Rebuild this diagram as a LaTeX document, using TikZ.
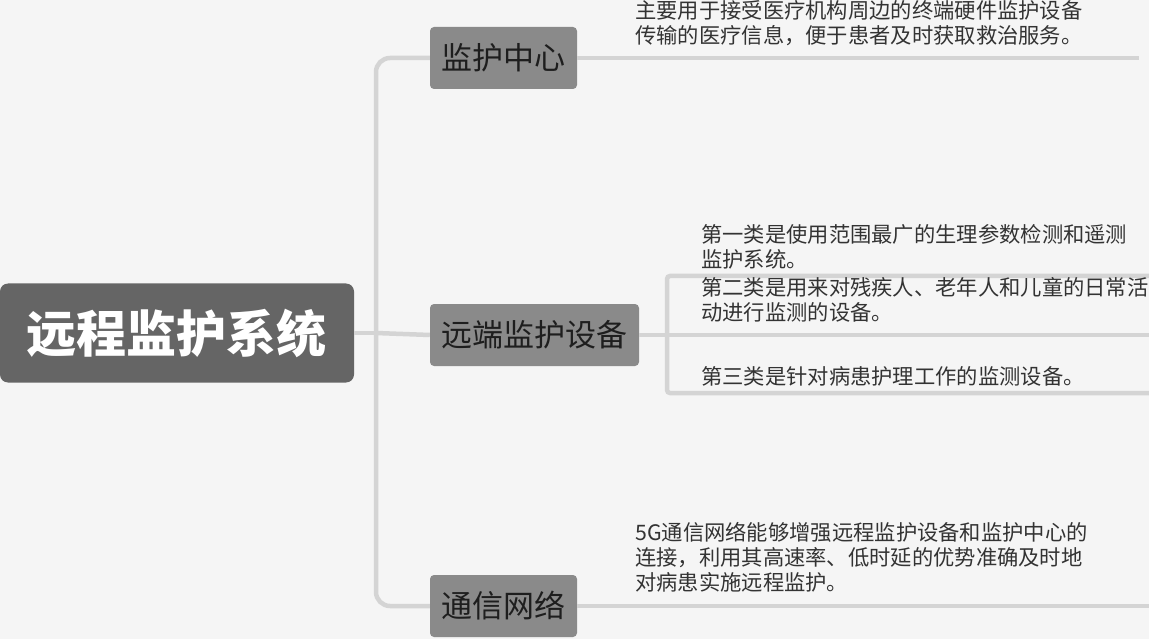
\documentclass[tikz,border=0pt]{standalone}
\usepackage{fontspec}
\newfontfamily\cjk{Noto Sans CJK SC}
\definecolor{bggray}{HTML}{F5F5F5}
\definecolor{rootgray}{HTML}{656565}
\definecolor{branchgray}{HTML}{8A8A8A}
\definecolor{labelgray}{HTML}{1E1E1E}
\definecolor{notegray}{HTML}{333333}
\definecolor{linkgray}{HTML}{D4D4D4}

\begin{document}
\begin{tikzpicture}
[every node/.style={inner sep=0pt},
 topic/.style={rounded corners=8pt, fill=rootgray, text=white, minimum width=354pt, minimum height=99pt, font=\cjk\bfseries\fontsize{50}{50}\selectfont},
 branch/.style={rounded corners=4pt, fill=branchgray, text=labelgray, minimum height=62pt, font=\cjk\fontsize{31}{31}\selectfont},
 note/.style={anchor=west, align=left, text=notegray, font=\cjk\fontsize{21.3}{25}\selectfont},
 link/.style={line width=4.5pt, draw=linkgray, rounded corners=14pt}]
\useasboundingbox (0pt, 0pt) rectangle (1149pt, -639pt);
\fill [bggray] (0pt, 0pt) rectangle (1149pt, -639pt);
\node (root) [topic] at (177pt, -333pt) {远程监护系统};
\node (center) [branch, minimum width=147pt] at (503.5pt, -58pt) {监护中心};
\node (remote) [branch, minimum width=209pt] at (534.5pt, -335pt) {远端监护设备};
\node (net) [branch, minimum width=147pt] at (503.5pt, -606pt) {通信网络};
\coordinate (trunk) at (376pt, -333pt);
\coordinate (centerend) at (1139pt, -58pt);
\coordinate (netend) at (1149pt, -606pt);
\coordinate (fork) at (667pt, -335pt);
\coordinate (forktop) at (1149pt, -276pt);
\coordinate (forkmid) at (1149pt, -335pt);
\coordinate (forkbot) at (1149pt, -393pt);
\draw [link] (root.east) -- (trunk);
\draw [link] (trunk) |- (center.west);
\draw [link] (trunk) |- (net.west);
\draw [link] (trunk) -- (remote.west);
\draw [link] (center.east) -- (centerend);
\draw [link] (net.east) -- (netend);
\draw [link] (remote.east) -- (fork);
\draw [link, rounded corners=3pt] (forktop) -| (fork) |- (forkbot);
\draw [link] (fork) -- (forkmid);
\node (centernote) [note] at (635pt, -23pt) {主要用于接受医疗机构周边的终端硬件监护设备\\传输的医疗信息，便于患者及时获取救治服务。};
\node (kind1) [note] at (701pt, -247pt) {第一类是使用范围最广的生理参数检测和遥测\\监护系统。};
\node (kind2) [note] at (701pt, -300pt) {第二类是用来对残疾人、老年人和儿童的日常活\\动进行监测的设备。};
\node (kind3) [note] at (701pt, -376pt) {第三类是针对病患护理工作的监测设备。};
\node (netnote) [note] at (635pt, -557pt) {5G通信网络能够增强远程监护设备和监护中心的\\连接，利用其高速率、低时延的优势准确及时地\\对病患实施远程监护。};
\end{tikzpicture}
\end{document}
